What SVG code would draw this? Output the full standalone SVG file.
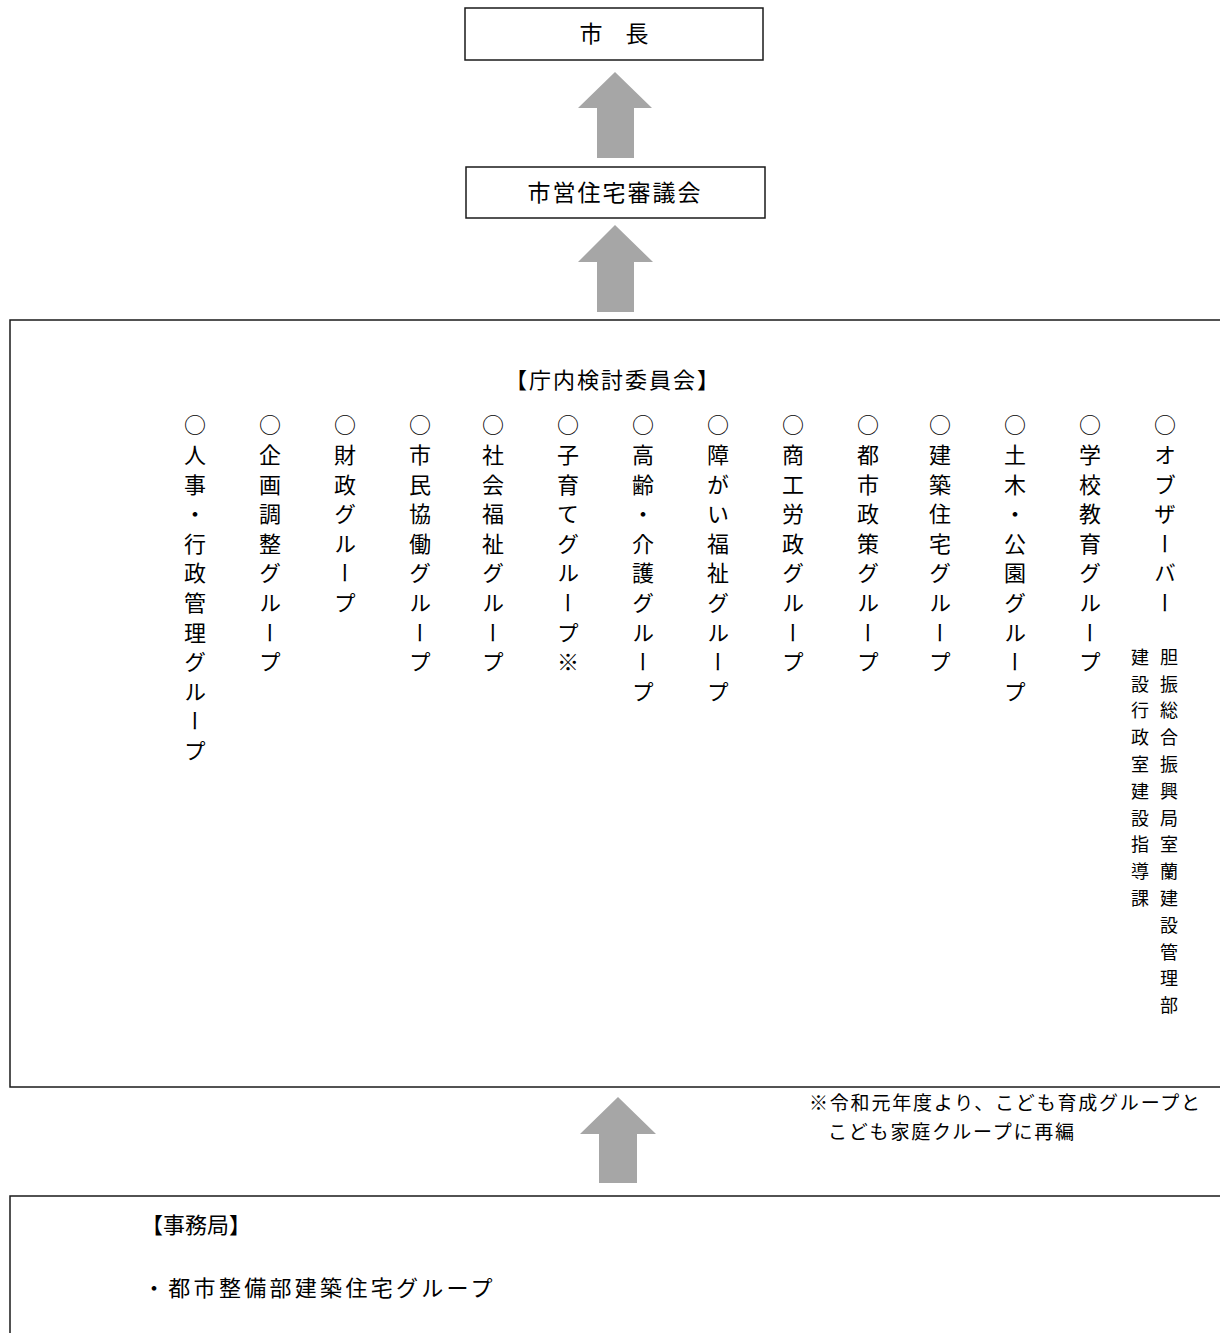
<svg xmlns="http://www.w3.org/2000/svg" width="1220" height="1333" viewBox="0 0 1220 1333">
<style>
text{font-family:"Noto Sans CJK JP","Noto Sans CJK SC",sans-serif;fill:#000}
.box{fill:#fff;stroke:#1a1a1a;stroke-width:1.5}
.arrow{fill:#a6a6a6}
.t23{font-size:23px}
.vt{font-size:22px;writing-mode:vertical-rl;letter-spacing:7.6px}
.vs{font-size:18px;writing-mode:vertical-rl;letter-spacing:8.8px}
.fn{font-size:19px}
</style>
<rect width="1220" height="1333" fill="#fff"/>
<g id="connectors">
<polygon class="arrow" points="615,72 652,108 634,108 634,158 597,158 597,108 578,108"/>
<polygon class="arrow" points="615,225 653,262 634,262 634,312 597,312 597,262 578,262"/>
<polygon class="arrow" points="618,1097 656,1134 637,1134 637,1183 599,1183 599,1134 580,1134"/>
</g>
<g id="mayor">
<rect class="box" x="465" y="8" width="298" height="52"/>
<text class="t23" x="614" y="42" text-anchor="middle">市　長</text>
</g>
<g id="council">
<rect class="box" x="466" y="167" width="299" height="51"/>
<text class="t23" x="615" y="201" text-anchor="middle" letter-spacing="2">市営住宅審議会</text>
</g>
<g id="committee">
<rect class="box" x="10" y="320" width="1230" height="767"/>
<text x="613" y="388" font-size="22" text-anchor="middle" letter-spacing="2">【庁内検討委員会】</text>
<text class="vt" x="195" y="414">○人事・行政管理グループ</text>
<text class="vt" x="270" y="414">○企画調整グループ</text>
<text class="vt" x="345" y="414">○財政グループ</text>
<text class="vt" x="420" y="414">○市民協働グループ</text>
<text class="vt" x="493" y="414">○社会福祉グループ</text>
<text class="vt" x="568" y="414">○子育てグループ※</text>
<text class="vt" x="643" y="414">○高齢・介護グループ</text>
<text class="vt" x="718" y="414">○障がい福祉グループ</text>
<text class="vt" x="793" y="414">○商工労政グループ</text>
<text class="vt" x="868" y="414">○都市政策グループ</text>
<text class="vt" x="940" y="414">○建築住宅グループ</text>
<text class="vt" x="1015" y="414">○土木・公園グループ</text>
<text class="vt" x="1090" y="414">○学校教育グループ</text>
<text class="vt" x="1165" y="414">○オブザーバー</text>
<text class="vs" x="1169" y="648">胆振総合振興局室蘭建設管理部</text>
<text class="vs" x="1140" y="648">建設行政室建設指導課</text>
</g>
<g id="footnote">
<text class="fn" x="809" y="1110" letter-spacing="1.8">※令和元年度より、こども育成グループと</text>
<text class="fn" x="828" y="1139" letter-spacing="1.8">こども家庭クループに再編</text>
</g>
<g id="secretariat">
<rect class="box" x="10" y="1196" width="1230" height="160"/>
<text x="141" y="1233" font-size="22">【事務局】</text>
<text x="143" y="1296" font-size="22" letter-spacing="3.3">・都市整備部建築住宅グループ</text>
</g>
</svg>
